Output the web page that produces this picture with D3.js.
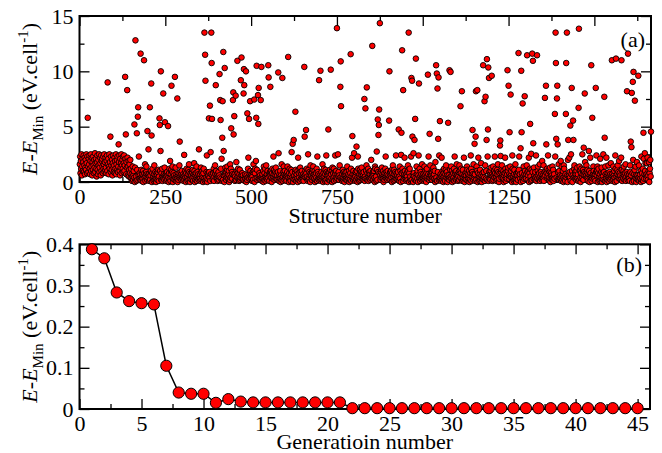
<!DOCTYPE html>
<html>
<head>
<meta charset="utf-8">
<script src="https://cdn.jsdelivr.net/npm/d3@7"></script>
<style>
body { margin: 0; background: #fff; }
svg, text { font-family: "Liberation Serif", "DejaVu Serif", serif; }
</style>
</head>
<body>
<div id="chart"></div>
<script>
// Panel (a): energy of each structure, 25 structures per row (row r, column i -> structure 25*r + i + 1)
var energyRows = [
  [1.6,2.3,0.8,1.9,1.2,2.5,0.6,1.4,2.1,1.0,1.8,2.4,0.9,1.5,2.2,0.7,1.3,2.0,1.1,2.5,1.7,0.8,2.3,5.8,1.4],
  [0.9,2.1,1.6,2.4,1.2,0.7,1.9,2.5,1.0,1.4,2.2,0.6,1.8,1.1,2.3,1.5,0.8,2.0,1.3,2.6,0.9,1.7,2.1,1.2,0.5],
  [1.8,2.4,1.1,0.7,2.0,1.5,2.5,0.9,1.3,2.2,1.7,0.6,2.4,1.0,1.9,2.1,1.4,0.8,2.3,1.2,1.6,2.5,0.9,1.8,1.1],
  [2.2,1.3,0.8,1.9,2.4,1.0,9.0,1.6,2.1,0.7,1.4,2.5,1.2,1.8,4.1,0.9,2.3,1.5,1.1,2.0,0.6,1.7,2.4,1.3,0.9],
  [1.5,2.2,0.8,1.9,1.2,2.5,0.7,1.6,2.0,1.1,2.3,0.9,1.4,3.4,1.8,2.4,1.0,0.6,2.1,1.3,1.7,2.5,0.8,1.5,2.0],
  [1.2,2.3,0.9,1.7,2.4,1.0,1.5,9.5,2.1,4.3,0.7,1.8,1.3,8.3,2.2,0.6,1.4,1.9,0.5,1.1,1.6,0.8,2.0,0.4,1.2],
  [0.3,0.7,0.1,0.5,1.4,0.2,0.6,1.0,0.4,5.2,0.0,1.3,12.8,0.3,0.5,0.1,4.4,1.1,0.2,5.9,6.75,0.6,2.3,0.3,0.8],
  [0.6,0.2,11.6,0.4,1.1,0.1,0.5,0.7,0.3,1.0,0.0,0.6,11.0,0.8,0.4,1.6,0.1,0.5,0.9,1.4,0.7,0.2,4.6,0.4,0.6],
  [2.95,0.7,0.1,0.5,6.75,0.2,0.6,1.0,8.9,4.2,0.0,0.8,1.2,0.3,0.5,0.1,0.7,1.5,0.2,0.4,0.9,0.6,0.0,0.3,0.8],
  [0.6,0.2,0.9,0.4,1.1,0.1,0.5,5.75,5.15,1.0,2.8,10.0,0.2,0.8,0.4,1.2,0.1,0.5,8.0,0.3,0.7,0.2,1.3,5.4,0.6],
  [0.3,0.7,0.1,0.5,0.9,0.2,0.6,5.05,0.4,0.0,0.8,1.2,0.3,1.9,0.1,0.7,1.1,8.7,0.4,0.9,1.4,0.0,0.3,0.8,0.5],
  [0.6,0.2,9.5,0.4,1.3,0.1,0.5,0.7,0.3,7.55,0.0,0.6,0.2,0.8,0.4,1.5,3.65,0.5,0.9,0.3,0.7,0.2,1.0,0.4,0.6],
  [0.3,0.7,0.1,0.5,2.45,0.2,0.6,1.0,0.4,0.0,0.8,1.2,0.3,0.5,0.1,0.7,1.1,0.2,1.6,0.9,0.6,0.0,0.3,0.8,0.5],
  [0.6,0.2,0.9,0.4,1.1,0.1,0.5,0.7,1.7,1.0,0.0,0.6,0.2,0.8,0.4,1.4,0.1,0.5,0.9,0.3,0.7,0.2,2.95,0.4,0.6],
  [0.3,0.7,0.1,1.3,0.9,0.2,0.6,1.0,0.4,0.0,0.8,1.2,0.3,13.5,0.1,11.5,9.15,0.2,0.4,0.9,2.4,0.0,0.3,0.8,0.5],
  [0.6,5.75,0.9,0.4,6.9,0.1,2.7,0.7,13.5,10.75,5.7,0.6,0.2,0.8,0.4,1.2,0.1,0.5,0.9,1.5,0.7,8.75,1.0,0.4,0.6],
  [0.3,0.7,0.1,0.5,0.9,0.2,0.6,9.75,0.4,7.4,5.6,1.2,0.3,2.1,0.1,4.0,7.3,0.2,11.75,2.8,0.6,0.0,10.3,0.8,1.3],
  [0.6,0.2,0.9,0.4,1.1,1.4,0.5,0.7,0.3,1.0,0.0,0.6,0.2,1.6,0.4,1.2,4.85,0.5,0.9,0.3,0.7,7.4,8.1,4.3,0.6],
  [5.95,0.7,0.1,0.5,7.8,0.2,1.8,1.0,0.4,10.95,0.8,1.2,0.3,0.5,0.1,0.7,1.1,0.2,0.4,9.2,0.6,11.25,0.3,0.8,0.5],
  [0.6,0.2,8.0,10.2,8.75,0.1,0.5,0.7,0.3,10.0,0.0,0.6,0.2,6.2,0.4,1.2,2.2,0.5,5.7,0.3,0.7,7.3,1.0,0.4,0.6],
  [0.3,0.7,0.1,0.5,0.9,0.2,1.6,1.0,7.45,0.0,0.8,1.2,0.3,1.9,5.8,10.5,1.1,0.2,0.4,7.85,5.25,8.5,0.3,0.8,0.5],
  [0.6,0.2,7.4,0.4,10.4,0.1,0.5,0.7,0.3,1.0,0.0,1.4,0.2,0.8,0.4,1.2,0.1,0.5,1.5,0.3,0.7,0.2,1.0,0.4,10.55],
  [9.45,0.7,0.1,0.5,0.9,8.6,0.6,1.0,0.4,0.0,0.8,1.2,0.3,0.5,2.3,0.7,1.1,0.2,0.4,0.9,0.6,1.3,0.3,0.8,0.5],
  [0.6,0.2,0.9,9.9,2.6,0.1,0.5,0.7,0.3,1.0,0.0,0.6,0.2,1.6,0.4,9.4,0.1,0.5,0.9,1.4,0.7,0.2,1.0,0.4,0.6],
  [0.3,0.7,0.1,0.5,0.9,1.4,0.6,11.3,0.4,0.0,0.8,1.2,0.3,0.5,0.1,0.7,1.1,2.7,0.4,0.9,3.45,0.0,0.3,3.8,0.5],
  [0.6,0.2,0.9,6.35,1.1,0.1,0.5,0.7,0.3,1.0,0.0,2.2,0.2,0.8,0.4,1.2,0.1,1.3,0.9,0.3,0.7,0.2,1.0,0.4,0.6],
  [0.3,0.7,0.1,0.5,10.4,4.1,0.6,1.0,0.4,4.7,0.8,1.2,0.3,0.5,0.1,2.5,1.1,0.2,0.4,0.9,0.6,0.0,1.5,0.8,0.5],
  [0.6,0.2,0.9,0.4,1.1,1.4,0.5,0.7,0.3,1.0,0.0,0.6,0.2,0.8,0.4,1.2,0.1,2.3,0.9,0.3,0.7,0.2,9.2,0.4,0.6],
  [0.3,10.05,0.1,0.5,0.9,0.2,0.6,1.6,0.4,0.0,0.8,1.2,0.3,0.5,0.1,0.7,1.1,0.2,2.4,0.9,0.6,0.0,0.3,0.8,4.75],
  [0.6,0.2,0.9,0.4,1.1,0.1,10.15,0.7,0.3,1.0,0.0,1.3,0.2,0.8,0.4,1.2,0.1,0.5,0.9,2.4,0.7,0.2,1.0,0.4,13.9],
  [0.3,0.7,2.5,0.5,0.9,0.2,0.6,1.5,0.4,8.6,10.9,6.85,0.3,0.5,0.1,0.7,1.1,0.2,0.4,0.9,0.6,0.0,0.3,0.8,0.5],
  [0.6,0.2,0.9,0.4,1.4,0.1,0.5,0.7,0.3,1.0,0.0,0.6,0.2,0.8,11.55,1.2,0.1,0.5,2.2,4.15,0.7,0.2,1.0,0.4,2.6],
  [0.3,0.7,0.1,0.5,0.9,0.2,3.2,1.0,0.4,0.0,2.3,1.2,0.3,0.5,0.1,0.7,1.1,0.2,0.4,0.9,0.6,1.3,0.3,0.8,0.5],
  [0.6,0.2,0.9,0.4,7.5,0.1,0.5,6.65,0.3,1.0,1.5,8.55,0.2,0.8,0.4,1.2,0.1,0.5,0.9,0.3,0.7,0.2,1.0,0.4,2.0],
  [0.3,0.7,12.3,0.5,0.9,0.2,0.6,1.0,0.4,0.0,1.4,1.2,0.3,0.5,0.1,2.75,1.1,0.2,5.65,0.9,4.25,5.15,6.55,0.8,14.35],
  [0.6,0.2,0.9,0.4,1.1,1.3,0.5,0.7,0.3,1.0,0.0,0.6,0.2,0.8,0.4,1.2,2.3,0.5,0.9,0.3,0.7,0.2,1.0,0.4,0.6],
  [0.3,5.55,10.0,0.5,0.9,0.2,0.6,1.0,0.4,0.0,0.8,1.2,1.5,0.5,0.1,0.7,1.1,0.2,0.4,0.9,0.6,2.4,0.3,0.8,0.5],
  [0.6,0.2,0.9,0.4,4.75,0.1,0.5,1.4,0.3,1.0,0.0,2.45,4.45,0.8,11.9,1.2,0.1,8.3,0.9,0.3,0.7,2.2,1.0,0.4,0.6],
  [0.3,0.7,0.1,0.5,0.9,0.2,1.5,1.0,13.5,0.0,0.8,1.2,0.3,0.5,0.1,2.3,9.4,0.2,9.15,4.1,0.6,0.0,2.6,0.8,0.5],
  [3.8,0.2,5.7,0.4,11.15,0.1,1.4,0.7,0.3,1.0,0.0,0.6,2.4,8.9,0.4,1.2,0.1,0.5,0.9,0.3,0.7,0.2,1.6,0.4,0.6],
  [0.3,0.7,0.1,0.5,1.4,0.2,0.6,1.0,0.4,0.0,0.8,1.2,0.3,0.5,9.7,0.7,2.3,0.2,0.4,4.35,0.6,1.5,0.3,0.8,0.5],
  [0.6,0.2,0.9,0.4,1.1,1.3,0.5,0.7,0.3,1.0,0.0,1.8,0.2,10.55,0.4,9.8,0.1,8.45,0.9,3.9,9.45,0.2,2.4,0.4,5.5],
  [0.3,0.7,0.1,0.5,2.2,0.2,0.6,1.0,0.4,0.0,0.8,1.2,0.3,0.5,0.1,0.7,1.1,1.5,0.4,0.9,0.6,0.0,0.3,5.35,0.5],
  [0.6,0.2,10.1,0.4,1.1,9.95,0.5,1.4,0.3,1.0,0.0,0.6,0.2,0.8,0.4,1.2,0.1,2.3,0.9,0.3,0.7,0.2,1.0,1.6,0.6],
  [0.3,0.7,0.1,0.5,0.9,0.2,1.5,1.0,0.4,6.85,0.8,1.2,0.3,8.2,0.1,0.7,1.1,0.2,0.4,2.2,0.6,0.0,0.3,0.8,0.5],
  [0.6,0.2,0.9,1.4,1.1,0.1,0.5,0.7,0.3,1.0,0.0,0.6,0.2,0.8,2.4,1.2,0.1,0.5,0.9,4.7,0.7,0.2,1.6,0.4,0.6],
  [3.45,0.7,0.1,4.1,8.2,0.2,1.4,1.0,8.3,0.0,0.8,2.2,0.3,0.5,0.1,0.7,1.1,0.2,0.4,1.7,0.6,0.0,0.3,0.8,0.5],
  [10.55,0.2,0.9,0.4,7.3,0.1,1.5,7.7,0.3,1.0,3.8,11.1,0.2,2.3,4.75,10.35,0.1,9.4,0.9,0.3,0.7,0.2,1.0,1.3,0.6],
  [9.6,0.7,0.1,0.5,1.4,0.2,0.6,1.0,0.4,2.3,0.8,1.2,0.3,0.5,0.1,0.7,1.1,0.2,1.6,0.9,0.6,0.0,0.3,0.8,3.3],
  [3.75,2.35,0.9,0.4,1.1,1.5,0.5,0.7,0.3,1.0,0.0,0.6,0.2,0.8,2.2,1.2,0.1,0.5,0.9,0.3,0.7,10.1,1.0,1.3,8.7],
  [0.3,0.7,4.5,0.5,1.4,7.9,0.6,1.0,0.4,0.0,2.4,1.2,0.3,0.5,0.1,0.7,1.1,0.2,0.4,1.6,0.6,0.0,0.3,0.8,0.5],
  [0.6,0.2,0.9,11.65,1.1,2.3,0.5,0.7,0.3,3.05,0.0,10.05,4.5,0.8,0.4,7.1,0.1,0.5,1.4,0.3,0.7,7.75,1.0,0.4,0.6],
  [0.3,0.7,1.5,11.45,0.9,0.2,0.6,1.0,2.2,0.0,0.8,1.2,5.25,0.5,0.1,2.55,1.1,0.2,11.6,0.9,10.95,3.5,0.3,1.3,0.5],
  [0.6,0.2,0.9,0.4,2.4,0.1,0.5,11.45,0.3,1.0,1.4,0.6,0.2,0.8,0.4,1.6,0.1,0.5,0.9,0.3,0.7,0.2,1.9,0.4,0.6],
  [0.3,1.5,0.1,0.5,0.9,7.6,0.6,1.0,8.7,3.4,0.8,1.2,0.3,0.5,2.4,0.7,1.1,0.2,0.4,0.9,1.3,0.0,0.3,0.8,0.5],
  [0.6,0.2,1.4,0.4,1.1,0.1,0.5,0.7,0.3,6.15,2.3,13.5,10.75,3.9,0.4,7.55,8.7,3.4,0.9,0.3,1.6,0.2,1.0,0.4,0.6],
  [0.3,1.9,0.1,0.5,1.4,0.2,0.6,1.0,0.4,0.0,1.5,1.2,0.3,0.5,0.1,0.7,6.15,10.75,0.4,13.5,0.6,0.0,2.0,3.8,0.5],
  [0.6,2.2,0.9,0.4,5.1,0.1,2.5,0.7,8.5,1.0,0.0,0.6,5.55,3.8,0.4,1.2,1.5,0.5,0.9,0.3,0.7,0.2,1.0,0.4,1.3],
  [0.3,0.7,0.1,6.7,13.85,0.2,1.4,1.0,0.4,0.0,0.8,1.2,0.3,0.5,2.5,0.7,1.1,0.2,3.1,0.9,0.6,8.0,1.8,0.8,0.5],
  [0.6,1.5,0.9,0.4,1.1,0.1,0.5,0.7,2.8,1.0,0.0,0.6,2.2,0.8,0.4,10.55,0.1,0.5,5.8,0.3,0.7,1.4,1.0,0.4,0.6],
  [0.3,0.7,0.1,8.5,0.9,2.4,0.6,1.0,1.4,0.0,0.8,1.2,0.3,0.5,0.1,0.7,2.1,0.2,0.4,0.9,1.3,0.0,0.3,0.8,0.5],
  [2.5,0.2,0.9,7.7,4.0,0.1,1.4,0.7,0.3,2.2,0.0,0.6,0.2,0.8,0.4,1.5,0.1,0.5,0.9,0.3,0.7,0.2,1.7,0.4,0.6],
  [11.0,0.7,0.1,0.5,1.4,0.2,0.6,1.0,0.4,0.0,2.4,1.2,11.15,0.5,0.1,0.7,1.1,1.5,0.4,0.9,0.6,1.9,0.3,0.8,0.5],
  [0.6,0.2,2.2,11.0,1.1,0.1,0.5,0.7,0.3,1.0,1.4,0.6,0.2,0.8,0.4,1.6,0.1,0.5,0.9,8.2,0.7,0.2,11.6,0.4,0.6],
  [0.3,0.7,0.1,1.5,0.9,3.65,0.6,3.15,8.05,0.0,0.8,9.05,2.0,9.95,0.1,0.7,1.1,7.35,0.4,1.4,0.6,0.0,0.3,1.8,0.5],
  [0.6,0.2,9.6,0.4,1.5,0.1,0.5,0.7,0.3,1.0,0.0,2.3,0.2,0.8,0.4,1.2,0.1,4.45,2.1,0.3,0.7,2.6,1.0,1.7,0.6],
  [0.3,0.7,1.7,0.5,2.2,0.2,0.6,1.0,1.8,0.0,0.8,1.2,2.0,0.5,4.55]
];
var structMax = 1665;

// Panel (b): lowest energy found in each generation
var generation = [1,2,3,4,5,6,7,8,9,10,11,12,13,14,15,16,17,18,19,20,21,22,23,24,25,26,27,28,29,30,31,32,33,34,35,36,37,38,39,40,41,42,43,44,45];
var genEnergy = [0.388,0.366,0.283,0.262,0.257,0.254,0.105,0.040,0.037,0.037,0.015,0.024,0.018,0.016,0.016,0.016,0.016,0.016,0.016,0.016,0.016,
  0.002,0.002,0.002,0.002,0.002,0.002,0.002,0.002,0.002,0.002,0.002,0.002,0.002,0.002,0.002,0.002,0.002,0.002,0.002,0.002,0.002,0.002,0.002,0.002];

// Tick values
var topXMajor = [0,250,500,750,1000,1250,1500];
var topXMinor = [125,375,625,875,1125,1375,1625];
var topYMajor = [0,5,10,15];
var topYMinor = [2.5,7.5,12.5];
var botXMajor = [0,5,10,15,20,25,30,35,40,45];
var botXMinor = [2.5,7.5,12.5,17.5,22.5,27.5,32.5,37.5,42.5];
var botYMajor = [0,0.1,0.2,0.3,0.4];
var botYMinor = [0.05,0.15,0.25,0.35];

var svgWidth = 662;
var svgHeight = 453;
var fontSize = 22;
var serif = "'Liberation Serif', 'DejaVu Serif', serif";

var svg = d3.select("#chart")
  .append("svg")
  .attr("width", svgWidth)
  .attr("height", svgHeight)
  .style("font-family", serif);

// draws frame, inward ticks on all four sides, tick labels on left and bottom
function drawFrame(g, x, y, w, h, xMajor, xMinor, yMajor, yMinor, yFmt) {
  var axes = [
    {gen: d3.axisBottom, sc: x, tr: `translate(0,${h})`, major: xMajor, minor: xMinor, lab: true, fmt: d3.format("d")},
    {gen: d3.axisTop, sc: x, tr: "translate(0,0)", major: xMajor, minor: xMinor, lab: false},
    {gen: d3.axisLeft, sc: y, tr: "translate(0,0)", major: yMajor, minor: yMinor, lab: true, fmt: yFmt},
    {gen: d3.axisRight, sc: y, tr: `translate(${w},0)`, major: yMajor, minor: yMinor, lab: false}
  ];
  axes.forEach(function(a) {
    var minorG = g.append("g").attr("transform", a.tr)
      .call(a.gen(a.sc).tickValues(a.minor).tickSize(-5).tickSizeOuter(0).tickFormat(""));
    var majorG = g.append("g").attr("transform", a.tr)
      .call(a.gen(a.sc).tickValues(a.major).tickSize(-10).tickSizeOuter(0).tickPadding(6)
        .tickFormat(a.lab ? a.fmt : ""));
    [minorG, majorG].forEach(function(s) {
      s.attr("font-family", null).attr("font-size", null);
      s.select(".domain").remove();
      s.selectAll("line").attr("stroke", "#000").attr("stroke-width", 1.3);
      s.selectAll("text")
        .style("font-family", serif)
        .style("font-size", fontSize + "px")
        .attr("fill", "#000");
    });
  });
  g.append("rect")
    .attr("width", w)
    .attr("height", h)
    .attr("fill", "none")
    .attr("stroke", "#000")
    .attr("stroke-width", 2);
}

// y axis title  E-E_Min (eV.cell^-1)
function yTitle(g, cx, cy) {
  var t = g.append("text")
    .attr("transform", `translate(${cx},${cy}) rotate(-90)`)
    .attr("text-anchor", "middle")
    .style("font-family", serif)
    .style("font-size", fontSize + "px")
    .attr("fill", "#000");
  t.append("tspan").attr("font-style", "italic").text("E");
  t.append("tspan").text("-");
  t.append("tspan").attr("font-style", "italic").text("E");
  t.append("tspan").style("font-size", "15px").attr("dy", 6).text("Min");
  t.append("tspan").attr("dy", -6).text(" (eV.cell");
  t.append("tspan").style("font-size", "15px").attr("dy", -9).text("-1");
  t.append("tspan").attr("dy", 9).text(")");
}

function label(g, x, y, anchor, str) {
  g.append("text")
    .attr("x", x)
    .attr("y", y)
    .attr("text-anchor", anchor)
    .style("font-family", serif)
    .style("font-size", fontSize + "px")
    .text(str);
}

//Panel (a)
var aLeft = 79.5, aTop = 16, aW = 571.5, aH = 166;
var gA = svg.append("g").attr("transform", `translate(${aLeft},${aTop})`);
var xA = d3.scaleLinear().domain([0, structMax]).range([0, aW]);
var yA = d3.scaleLinear().domain([0, 15]).range([aH, 0]);

var structPoints = [];
energyRows.forEach(function(row, r) {
  row.forEach(function(e, i) {
    structPoints.push({n: 25 * r + i + 1, e: e});
  });
});

drawFrame(gA, xA, yA, aW, aH, topXMajor, topXMinor, topYMajor, topYMinor, d3.format("d"));

gA.selectAll("circle").data(structPoints).enter().append("circle")
  .attr("cx", d => xA(d.n))
  .attr("cy", d => yA(d.e))
  .attr("r", 2.8)
  .attr("fill", "#ff0000")
  .attr("stroke", "#000")
  .attr("stroke-width", 0.9);

label(gA, aW / 2, aH + 41, "middle", "Structure number");
label(gA, aW - 6, 31, "end", "(a)");
yTitle(svg, 37, aTop + aH / 2);

//Panel (b)
var bLeft = 79.5, bTop = 244.3, bW = 570.5, bH = 164.7;
var gB = svg.append("g").attr("transform", `translate(${bLeft},${bTop})`);
var xB = d3.scaleLinear().domain([0, 46]).range([0, bW]);
var yB = d3.scaleLinear().domain([0, 0.4]).range([bH, 0]);

drawFrame(gB, xB, yB, bW, bH, botXMajor, botXMinor, botYMajor, botYMinor,
  d => d === 0 ? "0" : d3.format(".1f")(d));

var genData = generation.map((g, i) => ({g: g, e: genEnergy[i]}));

gB.append("path")
  .datum(genData)
  .attr("fill", "none")
  .attr("stroke", "#000")
  .attr("stroke-width", 1.5)
  .attr("d", d3.line().x(d => xB(d.g)).y(d => yB(d.e)));

gB.selectAll("circle").data(genData).enter().append("circle")
  .attr("cx", d => xB(d.g))
  .attr("cy", d => yB(d.e))
  .attr("r", 5.6)
  .attr("fill", "#ff0000")
  .attr("stroke", "#000")
  .attr("stroke-width", 1);

label(gB, bW / 2, bH + 40, "middle", "Generatioin number");
label(gB, bW - 8, 28, "end", "(b)");
yTitle(svg, 37, bTop + bH / 2);
</script>
</body>
</html>
